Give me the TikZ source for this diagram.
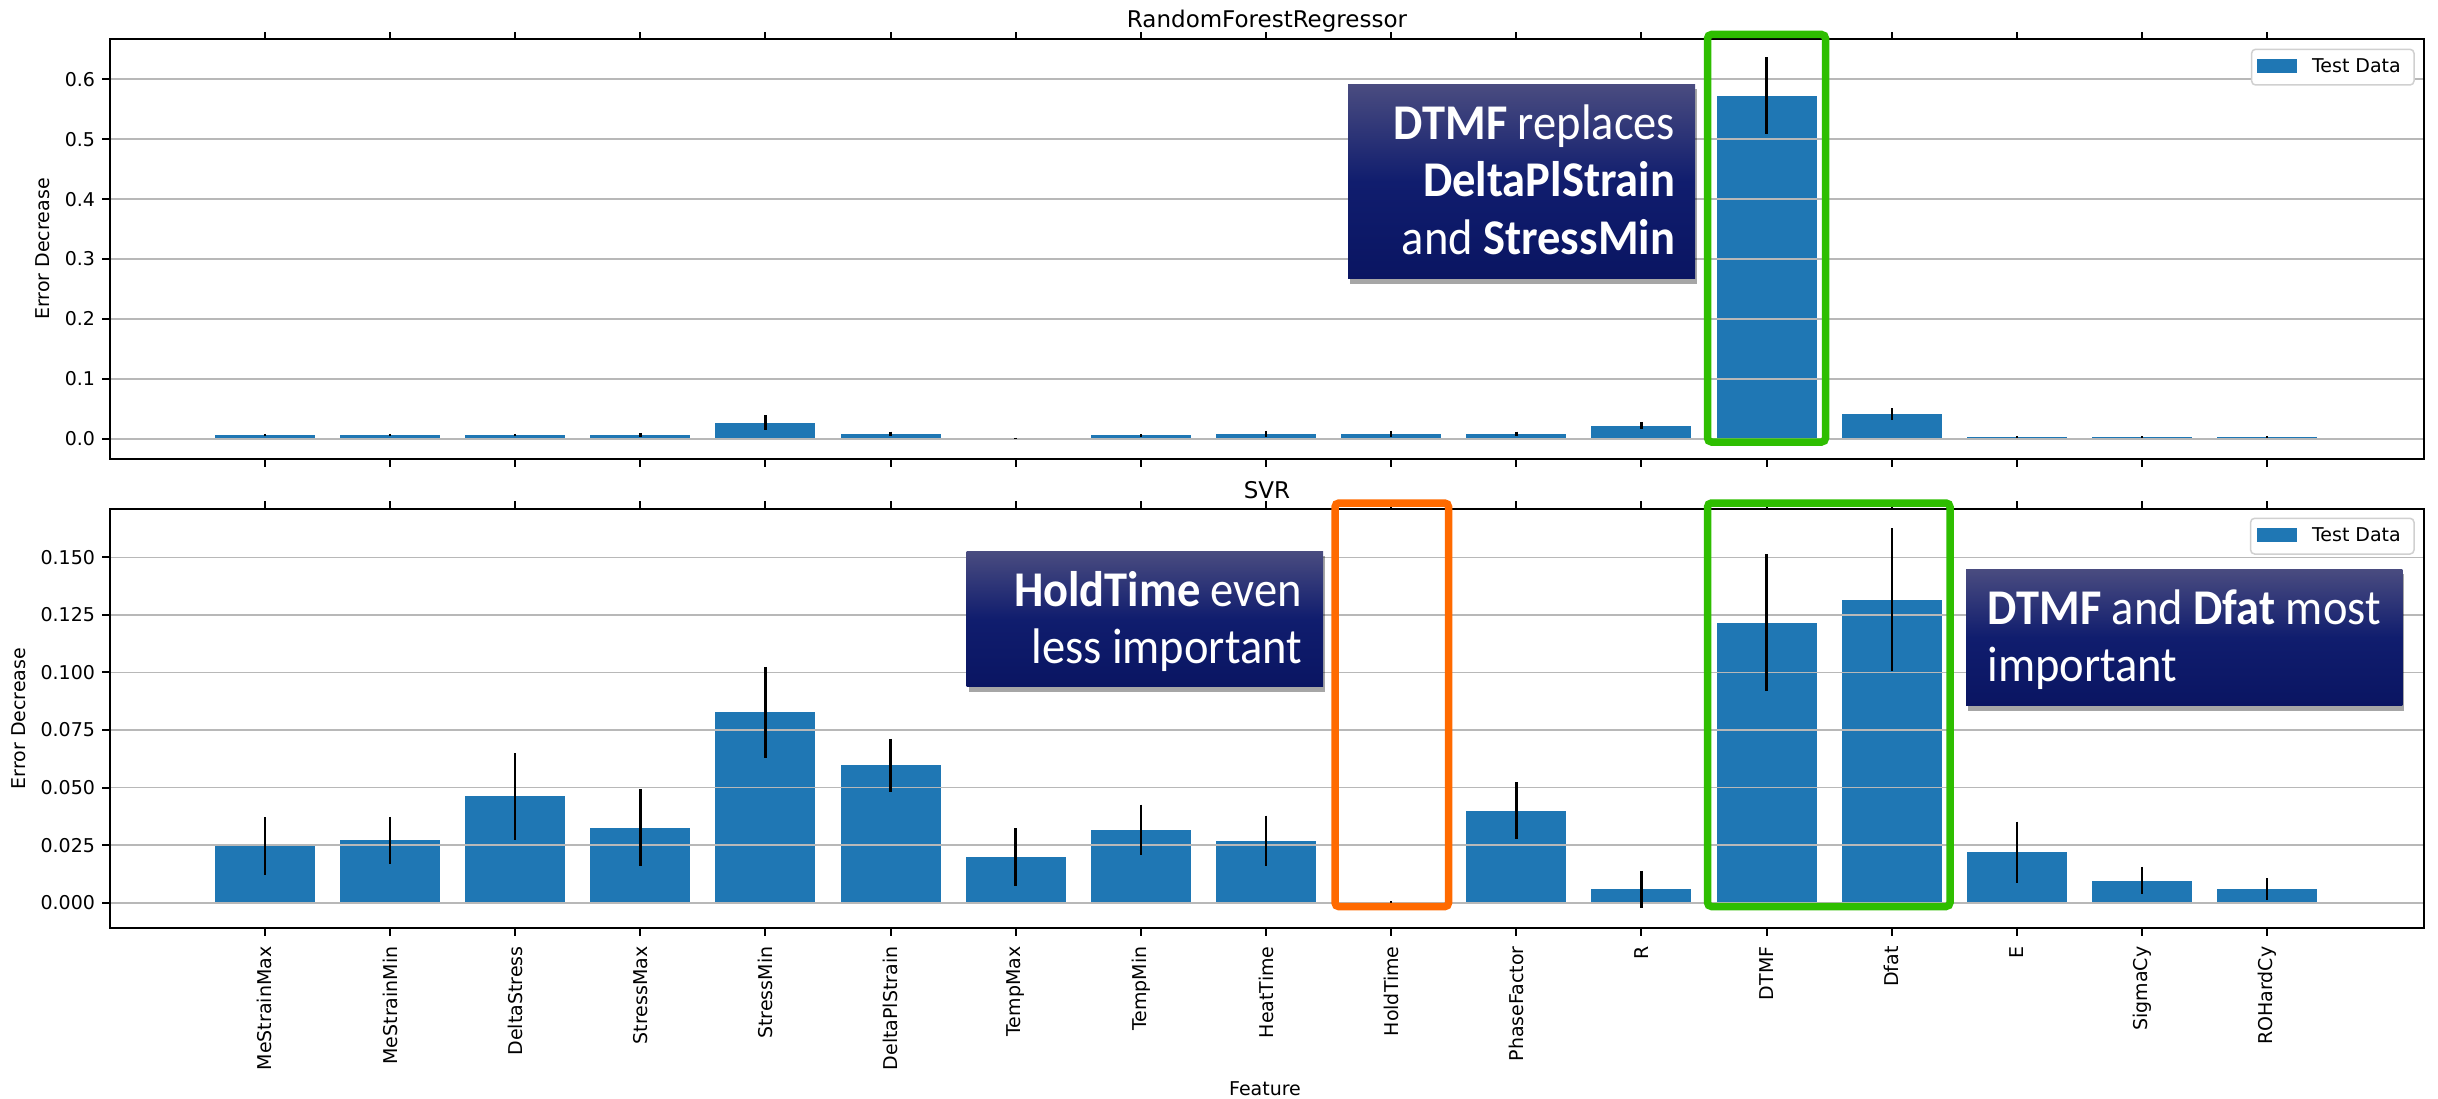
\documentclass[tikz,border=0pt]{standalone}
\usepackage{fontspec}
\setmainfont{DejaVu Sans}
\newfontfamily\calfont{Carlito}
\usetikzlibrary{shadows}
\definecolor{barblue}{HTML}{1F77B4}
\definecolor{gridgray}{HTML}{B8B8B8}
\definecolor{hlgreen}{HTML}{2EBE00}
\definecolor{hlorange}{HTML}{FF6A00}
\definecolor{navytop}{HTML}{4A4C80}
\definecolor{navymid}{HTML}{101D6E}
\definecolor{navybot}{HTML}{0A1562}
\definecolor{legedge}{HTML}{D0D0D0}
\begin{document}
\begin{tikzpicture}[x=1pt,y=-1pt,
  ticklab/.style={font=\fontsize{19}{23}\selectfont, inner sep=0pt, outer sep=0pt},
  ylab/.style={ticklab, anchor=east},
  xlab/.style={ticklab, anchor=east, rotate=90},
  spine/.style={line width=2pt, black},
  tickln/.style={line width=2pt, black},
  gridln/.style={gridgray, line width=1.6pt},
  errbar/.style={black, line width=2.5pt},
  hlbox/.style={line width=7.5pt, rounded corners=4pt},
  callbox/.style={top color=navytop, bottom color=navybot, middle color=navymid,
    inner sep=0pt, outer sep=0pt,
    drop shadow={shadow xshift=2pt, shadow yshift=-5pt, opacity=0.35, fill=black}},
  calltext/.style={text=white, inner sep=0pt, outer sep=0pt, font=\calfont\fontsize{50}{57}\selectfont},
  legbox/.style={draw=legedge, line width=1.5pt, fill=white, rounded corners=4pt},
  titlelab/.style={font=\fontsize{23}{27}\selectfont, inner sep=0pt, anchor=base}
]
\fill[white] (0,0) rectangle (2438,1099);
\useasboundingbox (0,0) rectangle (2438,1099);

% ================= TOP AXES =================
\foreach \v/\e [count=\n from 0] in {0.006/0.002,0.006/0.002,0.006/0.002,0.006/0.003,0.027/0.012,0.008/0.004,0.0005/0.0008,0.0055/0.002,0.008/0.005,0.008/0.005,0.008/0.004,0.022/0.006,0.5726/0.064,0.041/0.0095,0.003/0.0012,0.003/0.0012,0.003/0.0012}{
  \pgfmathsetmacro\xc{264.8+125.15*\n}
  \fill[barblue] ({\xc-50},438.7) rectangle ({\xc+50},{438.7-599*\v});
}
\foreach \t/\lab in {0/0.0,0.1/0.1,0.2/0.2,0.3/0.3,0.4/0.4,0.5/0.5,0.6/0.6}{
  \draw[gridln] (109.7,{438.7-599*\t}) -- (2424,{438.7-599*\t});
  \draw[tickln] (102,{438.7-599*\t}) -- (109.7,{438.7-599*\t});
  \node[ylab] (ya\lab) at (95,{438.7-599*\t}) {\lab};
}
\foreach \v/\e [count=\n from 0] in {0.006/0.002,0.006/0.002,0.006/0.002,0.006/0.003,0.027/0.012,0.008/0.004,0.0005/0.0008,0.0055/0.002,0.008/0.005,0.008/0.005,0.008/0.004,0.022/0.006,0.5726/0.064,0.041/0.0095,0.003/0.0012,0.003/0.0012,0.003/0.0012}{
  \pgfmathsetmacro\xc{264.8+125.15*\n}
  \draw[errbar] (\xc,{438.7-599*(\v+\e)}) -- (\xc,{438.7-599*(\v-\e)});
}
\draw[spine] (109.7,39.3) rectangle (2424,459);
\foreach \n in {0,...,16}{
  \pgfmathsetmacro\xc{264.8+125.15*\n}
  \draw[tickln] (\xc,39.3) -- (\xc,31.6);
  \draw[tickln] (\xc,459) -- (\xc,466.7);
}
\node[titlelab] (t1) at (1267,27.3) {RandomForestRegressor};
\node[ticklab, rotate=90] (yl1) at (43,249) {Error Decrease};
% legend top
\draw[legbox] (2251.6,49.3) rectangle (2414,85);
\fill[barblue] (2257,58.7) rectangle (2297,72.7);
\node[ticklab, anchor=west] (lg1) at (2312,65.7) {Test Data};

% ================= BOTTOM AXES =================
\foreach \v/\e [count=\n from 0] in {0.0246/0.0125,0.0271/0.0102,0.0462/0.0188,0.0326/0.0167,0.0827/0.0197,0.0597/0.0115,0.0198/0.0125,0.0317/0.0109,0.0268/0.011,0.0002/0.0004,0.0400/0.0123,0.0058/0.0080,0.1216/0.0297,0.1316/0.0310,0.0219/0.0133,0.0096/0.0060,0.0058/0.0048}{
  \pgfmathsetmacro\xc{264.8+125.15*\n}
  \fill[barblue] ({\xc-50},902.7) rectangle ({\xc+50},{902.7-2302*\v});
}
\foreach \t/\lab in {0/0.000,0.025/0.025,0.05/0.050,0.075/0.075,0.1/0.100,0.125/0.125,0.15/0.150}{
  \draw[gridln] (109.7,{902.7-2302*\t}) -- (2424,{902.7-2302*\t});
  \draw[tickln] (102,{902.7-2302*\t}) -- (109.7,{902.7-2302*\t});
  \node[ylab] (yb\lab) at (95,{902.7-2302*\t}) {\lab};
}
\foreach \v/\e [count=\n from 0] in {0.0246/0.0125,0.0271/0.0102,0.0462/0.0188,0.0326/0.0167,0.0827/0.0197,0.0597/0.0115,0.0198/0.0125,0.0317/0.0109,0.0268/0.011,0.0002/0.0004,0.0400/0.0123,0.0058/0.0080,0.1216/0.0297,0.1316/0.0310,0.0219/0.0133,0.0096/0.0060,0.0058/0.0048}{
  \pgfmathsetmacro\xc{264.8+125.15*\n}
  \draw[errbar] (\xc,{902.7-2302*(\v+\e)}) -- (\xc,{902.7-2302*(\v-\e)});
}
\draw[spine] (109.7,509) rectangle (2424,928.3);
\foreach \name [count=\n from 0] in {MeStrainMax,MeStrainMin,DeltaStress,StressMax,StressMin,DeltaPlStrain,TempMax,TempMin,HeatTime,HoldTime,PhaseFactor,R,DTMF,Dfat,E,SigmaCy,ROHardCy}{
  \pgfmathsetmacro\xc{264.8+125.15*\n}
  \draw[tickln] (\xc,509) -- (\xc,501.3);
  \draw[tickln] (\xc,928.3) -- (\xc,936);
  \node[xlab] (xl\n) at (\xc,946.5) {\name};
}
\node[titlelab] (t2) at (1267,498.3) {SVR};
\node[ticklab, rotate=90] (yl2) at (18.4,718.5) {Error Decrease};
\node[ticklab, anchor=base] (xf) at (1265,1095.5) {Feature};
% legend bottom
\draw[legbox] (2250.6,518.3) rectangle (2414,554);
\fill[barblue] (2257,528) rectangle (2297,542);
\node[ticklab, anchor=west] (lg2) at (2312,535) {Test Data};

% ================= HIGHLIGHTS =================
\draw[hlbox, hlgreen] (1707.5,34.5) rectangle (1825.5,442);
\draw[hlbox, hlgreen] (1707.5,503) rectangle (1950,906.5);
\draw[hlbox, hlorange] (1335,503) rectangle (1448.6,906.7);

% ================= CALLOUTS =================
\node[callbox, anchor=north west, minimum width=347pt, minimum height=194.7pt] (c1) at (1348,84.3) {};
\node[calltext, anchor=base east] (c1a) at (1675,140) {\scalebox{0.93}[1]{\textbf{DTMF} replaces}};
\node[calltext, anchor=base east] (c1b) at (1675,196.7) {\scalebox{0.93}[1]{\textbf{DeltaPlStrain}}};
\node[calltext, anchor=base east] (c1c) at (1675,255) {\scalebox{0.93}[1]{and \textbf{StressMin}}};

\node[callbox, anchor=north west, minimum width=356.5pt, minimum height=135.7pt] (c2) at (966.5,551) {};
\node[calltext, anchor=base east] (c2a) at (1302,606) {\scalebox{0.93}[1]{\textbf{HoldTime} even}};
\node[calltext, anchor=base east] (c2b) at (1302,663.3) {\scalebox{0.93}[1]{less important}};

\node[callbox, anchor=north west, minimum width=436.4pt, minimum height=136.7pt] (c3) at (1966,569) {};
\node[calltext, anchor=base west] (c3a) at (1987.7,624) {\scalebox{0.93}[1]{\textbf{DTMF} and \textbf{Dfat} most}};
\node[calltext, anchor=base west] (c3b) at (1987.7,681.7) {\scalebox{0.93}[1]{important}};
\end{tikzpicture}
\end{document}
